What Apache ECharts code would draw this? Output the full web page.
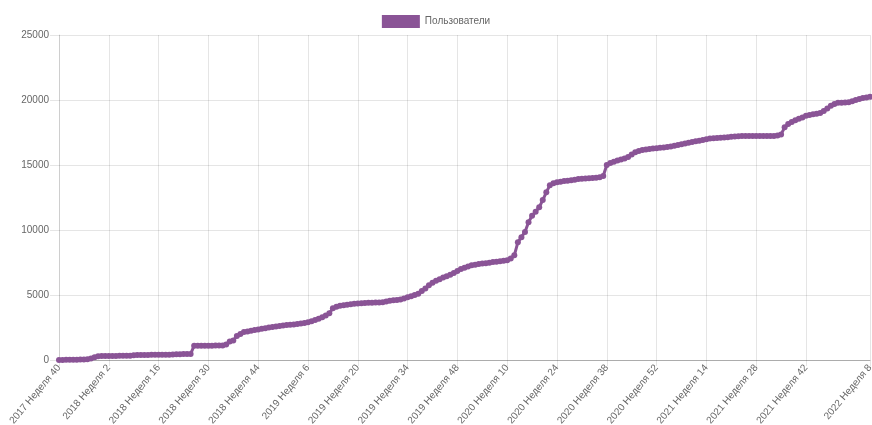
<!DOCTYPE html>
<html>
<head>
<meta charset="utf-8">
<script src="https://cdn.jsdelivr.net/npm/echarts@6/dist/echarts.min.js"></script>
<style>
  html, body { margin: 0; padding: 0; background: #fff; }
  #main { width: 872px; height: 425px; }
</style>
</head>
<body>
<div id="main"></div>
<script>
// недели: с 2017 Неделя 40 по 2022 Неделя 8 (52 недели в году)
var startYear = 2017, startWeek = 40, weekCount = 229;
var weeks = [];
for (var k = 0, y = startYear, w = startWeek; k < weekCount; k++) {
    weeks.push(y + ' Неделя ' + w);
    w++;
    if (w > 52) { w = 1; y++; }
}

var seriesName = 'Пользователи';

// число пользователей по неделям
var users = [
    0, 5, 10, 15, 20, 25, 30, 40, 60, 120,
    210, 280, 300, 305, 310, 310, 315, 320, 320, 325,
    330, 370, 380, 385, 390, 390, 395, 400, 400, 405,
    410, 410, 415, 440, 450, 455, 460, 465, 1100, 1100,
    1100, 1100, 1105, 1105, 1110, 1110, 1115, 1200, 1420, 1500,
    1850, 2000, 2150, 2200, 2250, 2300, 2350, 2400, 2450, 2500,
    2540, 2580, 2620, 2650, 2700, 2720, 2740, 2770, 2800, 2850,
    2900, 2980, 3080, 3180, 3280, 3420, 3600, 3980, 4100, 4170,
    4210, 4250, 4280, 4320, 4350, 4370, 4390, 4400, 4410, 4420,
    4430, 4450, 4500, 4560, 4600, 4620, 4660, 4740, 4820, 4900,
    5000, 5100, 5300, 5500, 5750, 5950, 6100, 6220, 6350, 6450,
    6550, 6700, 6850, 7000, 7100, 7200, 7280, 7330, 7380, 7420,
    7450, 7490, 7530, 7560, 7600, 7630, 7680, 7800, 8050, 9050,
    9450, 9850, 10600, 11100, 11400, 11750, 12300, 12900, 13450, 13600,
    13680, 13720, 13760, 13790, 13820, 13860, 13920, 13950, 13970, 13990,
    14000, 14020, 14050, 14150, 15000, 15150, 15250, 15350, 15420, 15500,
    15620, 15800, 15980, 16080, 16150, 16200, 16230, 16260, 16280, 16320,
    16350, 16390, 16430, 16480, 16540, 16600, 16660, 16720, 16770, 16820,
    16870, 16930, 16980, 17030, 17060, 17080, 17100, 17120, 17140, 17170,
    17200, 17220, 17230, 17230, 17230, 17230, 17230, 17230, 17230, 17230,
    17230, 17240, 17260, 17350, 17900, 18150, 18300, 18450, 18560, 18660,
    18780, 18850, 18900, 18950, 19000, 19150, 19350, 19550, 19700, 19780,
    19790, 19800, 19830, 19900, 20000, 20080, 20150, 20200, 20250
];

// какие подписи показывать по оси X
function showWeek(idx) {
    return (idx % 14 === 0 && idx <= 210) || idx === weeks.length - 1;
}

var myChart = echarts.init(document.getElementById('main'));

var option = {
    animation: false,
    textStyle: { fontFamily: 'Liberation Sans, Arial, sans-serif' },
    legend: {
        top: 10,
        left: 'center',
        icon: 'rect',
        itemWidth: 38,
        itemHeight: 13,
        itemGap: 4,
        textStyle: { color: '#666', fontSize: 10 },
        data: [seriesName]
    },
    grid: { left: 59, right: 2, top: 35, bottom: 65, containLabel: false, outerBoundsMode: 'none' },
    xAxis: {
        type: 'category',
        data: weeks,
        boundaryGap: false,
        axisLine: { lineStyle: { color: 'rgba(0,0,0,0.25)' } },
        axisTick: {
            show: true,
            length: 6,
            interval: showWeek,
            lineStyle: { color: 'rgba(0,0,0,0.1)' }
        },
        axisLabel: {
            interval: showWeek,
            rotate: 50,
            margin: 6,
            color: '#666',
            fontSize: 10
        },
        splitLine: {
            show: true,
            interval: showWeek,
            lineStyle: { color: 'rgba(0,0,0,0.1)' }
        }
    },
    yAxis: {
        type: 'value',
        min: 0,
        max: 25000,
        interval: 5000,
        axisLine: { show: true, lineStyle: { color: 'rgba(0,0,0,0.1)' } },
        axisTick: { show: true, length: 9, lineStyle: { color: 'rgba(0,0,0,0.1)' } },
        axisLabel: { color: '#666', fontSize: 10, margin: 10, formatter: function (v) { return String(v); } },
        splitLine: { lineStyle: { color: 'rgba(0,0,0,0.1)' } }
    },
    series: [
        {
            name: seriesName,
            type: 'line',
            data: users,
            showAllSymbol: true,
            symbol: 'circle',
            symbolSize: 6,
            clip: false,
            itemStyle: { color: '#8a5496' },
            lineStyle: { color: '#8a5496', width: 3 }
        }
    ]
};

myChart.setOption(option);
</script>
</body>
</html>
